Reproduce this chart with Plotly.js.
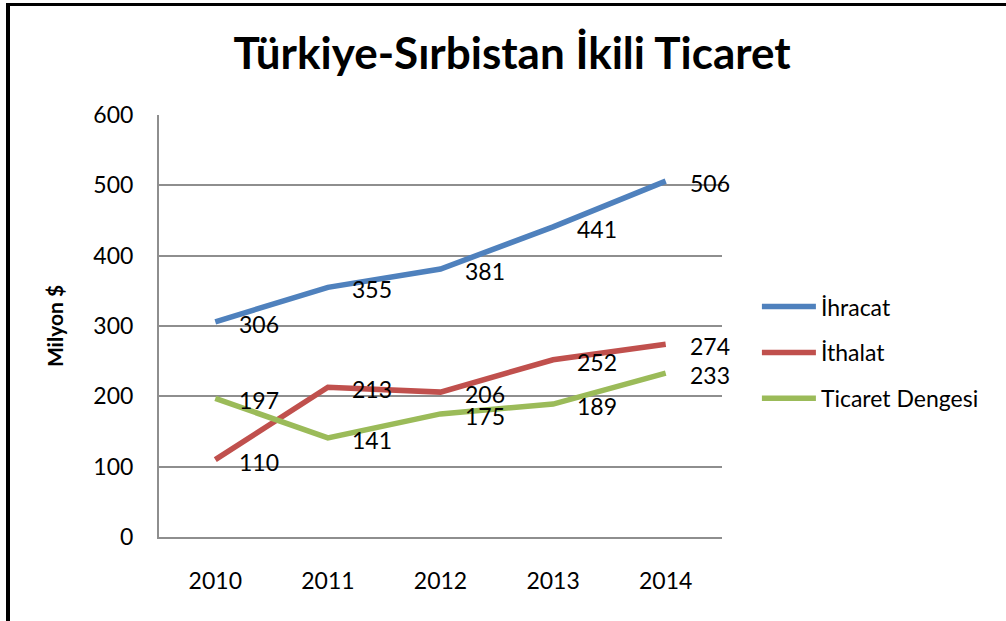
<!DOCTYPE html>
<html>
<head>
<meta charset="utf-8">
<script src="https://cdn.plot.ly/plotly-3.0.1.min.js"></script>
<style>
  html, body { margin: 0; padding: 0; background: #fff; overflow: hidden; }
  #wrap { position: relative; width: 1006px; height: 621px; }
  #chart { width: 1006px; height: 621px; }
  #frame { position: absolute; left: 6px; top: 3px; width: 1100px; height: 700px;
           border-left: 4px solid #000; border-top: 3px solid #000; pointer-events: none; }
</style>
</head>
<body>
<div id="wrap">
  <div id="chart"></div>
  <div id="frame"></div>
</div>
<script>
const years = ['2010', '2011', '2012', '2013', '2014'];
const ihracat = [306, 355, 381, 441, 506];
const ithalat = [110, 213, 206, 252, 274];
const ticaretDengesi = [197, 141, 175, 189, 233];
const seriesNames = ['İhracat', 'İthalat', 'Ticaret Dengesi'];
const seriesColors = ['#4F81BD', '#C0504D', '#9BBB59'];
const yTicks = [0, 100, 200, 300, 400, 500, 600];

const seriesValues = [ihracat, ithalat, ticaretDengesi];
const FONT = 'Lato, "Open Sans", sans-serif';

const traces = seriesValues.map((vals, i) => ({
  type: 'scatter',
  mode: 'lines',
  x: years,
  y: vals,
  name: seriesNames[i],
  legendgroup: 'g' + i,
  line: { color: seriesColors[i], width: 5.5 },
  hoverinfo: 'skip'
}));

const annotations = [];
seriesValues.forEach(vals => {
  vals.forEach((v, j) => {
    annotations.push({
      x: j, y: v, xref: 'x', yref: 'y',
      text: String(v), showarrow: false,
      xanchor: 'left', yanchor: 'middle',
      xshift: 22, yshift: -2,
      font: { family: FONT, size: 23, color: '#000' }
    });
  });
});

const layout = {
  width: 1006, height: 621,
  margin: { l: 159, r: 284, t: 115, b: 84 },
  paper_bgcolor: '#fff', plot_bgcolor: '#fff',
  title: {
    text: '<b>Türkiye-Sırbistan İkili Ticaret</b>',
    font: { family: FONT, size: 44, color: '#000' },
    x: 0.509, xanchor: 'center', xref: 'container',
    y: 0.913, yanchor: 'middle', yref: 'container'
  },
  xaxis: {
    type: 'category', range: [-0.5, 4.5],
    showgrid: false, zeroline: false,
    showline: true, linecolor: '#8e8e8e', linewidth: 2,
    ticks: '', ticklabelstandoff: 22,
    tickfont: { family: FONT, size: 23, color: '#000' }
  },
  yaxis: {
    range: [0, 600], tickvals: yTicks, ticktext: yTicks.map(String),
    showgrid: true, gridcolor: '#8e8e8e', gridwidth: 2,
    zeroline: false,
    showline: true, linecolor: '#8e8e8e', linewidth: 2,
    ticks: '', ticklabelstandoff: 19,
    tickfont: { family: FONT, size: 23, color: '#000' },
    title: { text: '<b>Milyon $</b>', font: { family: FONT, size: 21, color: '#000' }, standoff: 24 }
  },
  showlegend: true,
  legend: {
    x: 1.062, xanchor: 'left', y: 0.597, yanchor: 'top',
    font: { family: FONT, size: 23, color: '#000' },
    itemwidth: 54,
    tracegroupgap: 13, bgcolor: 'rgba(0,0,0,0)', traceorder: 'grouped'
  },
  annotations: annotations
};

Plotly.newPlot('chart', traces, layout, { displayModeBar: false, staticPlot: true });
</script>
</body>
</html>
